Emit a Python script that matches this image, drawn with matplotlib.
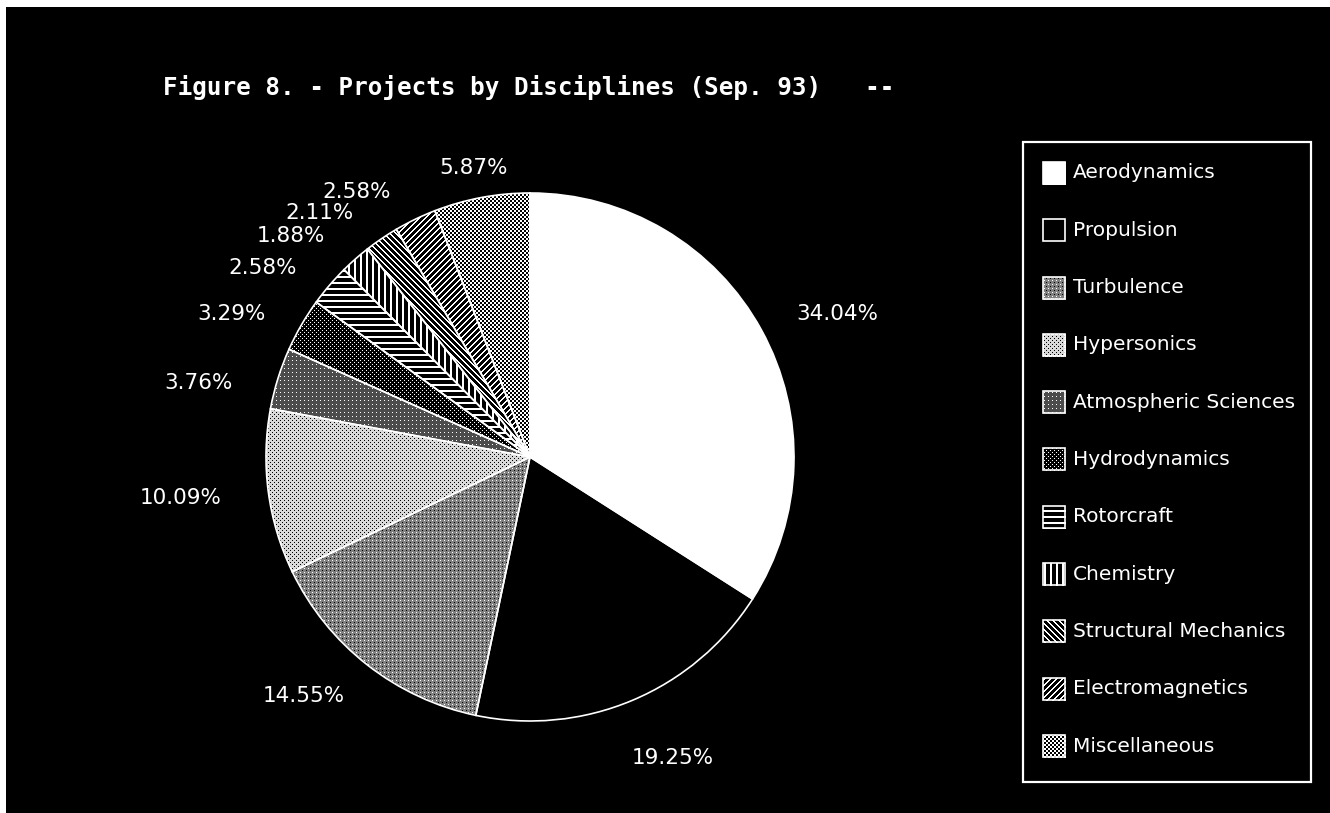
import numpy as np
import matplotlib
matplotlib.use("Agg")
import matplotlib.pyplot as plt
from matplotlib.patches import Rectangle

# NAS project share by discipline, Sep. 93
disciplines = ["Aerodynamics", "Propulsion", "Turbulence", "Hypersonics",
               "Atmospheric Sciences", "Hydrodynamics", "Rotorcraft", "Chemistry",
               "Structural Mechanics", "Electromagnetics", "Miscellaneous"]
shares = [34.04, 19.25, 14.55, 10.09, 3.76, 3.29, 2.58, 1.88, 2.11, 2.58, 5.87]
title = "Figure 8. - Projects by Disciplines (Sep. 93)   --"

W, H = 1330, 813
rows, cols = np.mgrid[0:H, 0:W]
dot_a = (rows % 4 == 0) & (cols % 4 == 0)
dot_b = (rows % 4 == 2) & (cols % 4 == 2)


def tone(base, white=None, black=None):
    # flat gray screen with optional white / black dot lattices
    img = np.full((H, W), base)
    if white is not None:
        img[white] = 1.0
    if black is not None:
        img[black] = 0.0
    return img


# fill patterns (1 = white), one per discipline
patterns = [
    tone(1.0),                                         # solid white
    tone(0.0),                                         # solid black
    tone(0.5, white=dot_a, black=dot_b),               # mid gray
    tone(0.85, black=dot_a | dot_b),                   # light dots
    tone(0.3, white=dot_a),                            # dark screen
    tone(0.0, white=dot_a | dot_b),                    # sparse dots
    (rows % 6 < 2).astype(float),                      # horizontal bars
    (cols % 6 < 2).astype(float),                      # vertical bars
    ((cols - rows) % 6 < 2).astype(float),             # back diagonal
    ((cols + rows) % 6 < 2).astype(float),             # forward diagonal
    (((rows // 2) + (cols // 2)) % 2 == 0).astype(float),  # checker
]

# label nudges in pixels (dx, dy down) for the crowded slices
label_nudge = [(-7, 7), (-19, 14), (7, -6), (0, 0), (0, 19), (5, 13),
               (4, 14), (1, 13), (-1, 14), (-4, 16), (1, 17)]

plt.rcParams["font.family"] = ["DejaVu Sans"]
fig = plt.figure(figsize=(W / 100, H / 100), dpi=100, facecolor="white")

# black panel behind everything
fig.patches.append(Rectangle((6 / W, 0), 1 - 6 / W, 1 - 7 / H,
                             transform=fig.transFigure, facecolor="black",
                             edgecolor="none", zorder=-1))

ax = fig.add_axes([0, 0, 1, 1], zorder=1)
ax.patch.set_visible(False)

cx, cy, r = 530, H - 457, 264
wedges, _ = ax.pie(shares, startangle=90, counterclock=False,
                   center=(cx, cy), radius=r,
                   wedgeprops=dict(facecolor="none", edgecolor="white",
                                   linewidth=1.2, zorder=3))
ax.set_xlim(0, W)
ax.set_ylim(0, H)
ax.set_aspect("auto")
ax.axis("off")


def fill(pat, clip):
    # unresampled pixel pattern, clipped to the given patch
    im = fig.figimage(pat, xo=0, yo=0, origin="upper", cmap="gray",
                      vmin=0, vmax=1, zorder=0)
    im.set_clip_path(clip)


for w, pat in zip(wedges, patterns):
    fill(pat, w)

# percentage labels placed off each slice's mid-angle
for w, val, (dx, dy) in zip(wedges, shares, label_nudge):
    th = np.deg2rad((w.theta1 + w.theta2) / 2)
    R = 1.18 * r
    x, y = cx + R * np.cos(th), cy + R * np.sin(th)
    c = np.cos(th)
    ha = "left" if c > 0.3 else ("right" if c < -0.3 else "center")
    ax.text(x + dx, y - dy, f"{val:.2f}%", color="white", fontsize=15.5,
            ha=ha, va="center", zorder=5)

ax.text(163, H - 88, title, color="white", fontsize=17.5, fontweight="bold",
        family="DejaVu Sans Mono", ha="left", va="center", zorder=5)

# legend box
ax.add_patch(Rectangle((1023, H - 782), 1311 - 1023, 782 - 142,
                       facecolor="none", edgecolor="white", linewidth=1.6,
                       zorder=4))
step = 57.3
for i, (name, pat) in enumerate(zip(disciplines, patterns)):
    yc = H - (173 + i * step)
    sw = Rectangle((1043, yc - 11), 22, 22, facecolor="none",
                   edgecolor="white", linewidth=1.2, zorder=4)
    ax.add_patch(sw)
    fill(pat, sw)
    ax.text(1073, yc, name, color="white", fontsize=14.5, ha="left",
            va="center", zorder=5)

fig.savefig("out.png", dpi=100, facecolor=fig.get_facecolor())
